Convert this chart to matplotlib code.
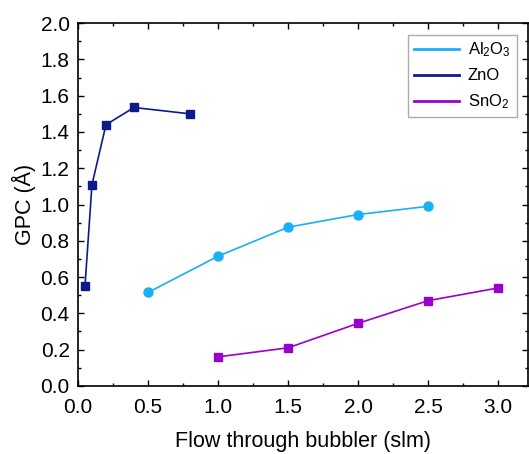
import matplotlib
matplotlib.use("Agg")
import matplotlib.pyplot as plt
from matplotlib.ticker import MultipleLocator

plt.rcParams['font.family'] = ['Liberation Sans', 'DejaVu Sans']
plt.rcParams['mathtext.fontset'] = 'custom'
plt.rcParams['mathtext.rm'] = 'Liberation Sans'
plt.rcParams['mathtext.it'] = 'Liberation Sans:italic'
plt.rcParams['mathtext.bf'] = 'Liberation Sans:bold'

al_x = [0.5, 1.0, 1.5, 2.0, 2.5]
al_y = [0.515, 0.715, 0.875, 0.945, 0.99]
zn_x = [0.05, 0.1, 0.2, 0.4, 0.8]
zn_y = [0.55, 1.11, 1.44, 1.535, 1.50]
sn_x = [1.0, 1.5, 2.0, 2.5, 3.0]
sn_y = [0.16, 0.21, 0.345, 0.47, 0.54]

c_al = '#1AB0F5'
c_zn = '#0D1A8C'
c_sn = '#9A00CC'

fig = plt.figure(figsize=(5.29, 4.54), dpi=100)
ax = fig.add_axes([0.1474, 0.150, 0.851, 0.799])

ax.plot(al_x, al_y, '-o', color=c_al, lw=1.2, ms=6.5, label='Al$_{\\mathrm{2}}$O$_{\\mathrm{3}}$')
ax.plot(zn_x, zn_y, '-s', color=c_zn, lw=1.2, ms=5.5, label='ZnO')
ax.plot(sn_x, sn_y, '-s', color=c_sn, lw=1.2, ms=5.5, label='SnO$_{\\mathrm{2}}$')

ax.set_xlim(0, 3.214)
ax.set_ylim(0, 2.0)
ax.xaxis.set_major_locator(MultipleLocator(0.5))
ax.xaxis.set_minor_locator(MultipleLocator(0.25))
ax.yaxis.set_major_locator(MultipleLocator(0.2))
ax.yaxis.set_minor_locator(MultipleLocator(0.1))
ax.tick_params(which='both', direction='in', top=True, right=True, labelsize=15, width=1)
ax.tick_params(which='major', length=4.5)
ax.tick_params(which='minor', length=2.5)
ax.tick_params(axis='x', which='major', pad=9)
ax.tick_params(axis='y', which='major', pad=6)
for s in ax.spines.values():
    s.set_linewidth(1.2)

ax.set_xlabel('Flow through bubbler (slm)', fontsize=15.5, labelpad=10)
ax.set_ylabel('GPC (Å)', fontsize=15.5, labelpad=3)

leg = ax.legend(loc='upper right', fontsize=12,
                fancybox=False, edgecolor='#999999', handlelength=2.7,
                handletextpad=0.55, borderpad=0.35,
                markerscale=0, labelspacing=0.55, borderaxespad=0.69)
for h in leg.legend_handles:
    h.set_marker('')
    h.set_linewidth(2)

fig.savefig('out.png', dpi=100)
